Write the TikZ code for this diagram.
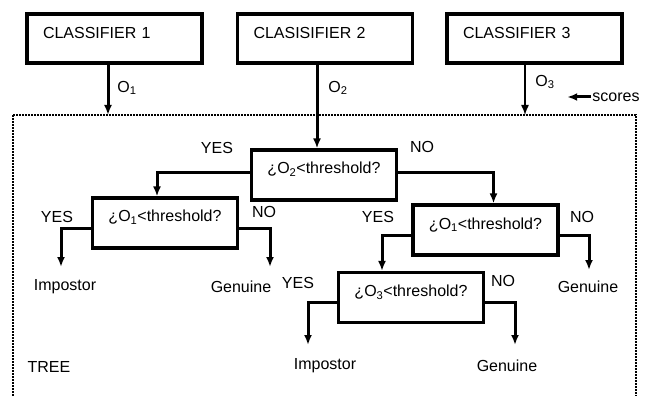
\documentclass[tikz,border=0pt]{standalone}
\usepackage{fontspec}
\setmainfont{Liberation Sans}
\usetikzlibrary{arrows.meta}

\tikzset{
  clbox/.style={draw, line width=3.2pt, align=left, text width=143pt, inner xsep=16pt, inner ysep=6pt, text height=18.5pt, text depth=18.5pt},
  askbox/.style={draw, line width=3.2pt, minimum width=145pt, inner xsep=0pt, inner ysep=6pt, text height=18pt, text depth=20pt},
  lbl/.style={inner sep=0pt},
  arr/.style={line width=3pt, -{Latex[length=10pt,width=8pt]}},
  frame/.style={line width=2.6pt, dash pattern=on 2pt off 1pt},
}

\begin{document}
\begin{tikzpicture}[x=1pt, y=-1pt, font=\fontsize{16}{19}\selectfont]
\useasboundingbox (0,0) rectangle (665,396);

% classifiers
\node[clbox] (c1) at (114.5,38.5) {CLASSIFIER 1};
\node[clbox] (c2) at (325,38.5) {CLASISIFIER 2};
\node[clbox] (c3) at (534.5,38.5) {CLASSIFIER 3};

% scores
\coordinate (t1) at (108,115);
\coordinate (t3) at (525,115);
\node[lbl] (o1) at (127,88) {O\textsubscript{1}};
\node[lbl] (o2) at (338,88) {O\textsubscript{2}};
\node[lbl] (o3) at (545,82) {O\textsubscript{3}};
\node[lbl] (scores) at (616,97) {scores};

% tree frame
\draw[frame] (13,115) rectangle (636,420);
\node[lbl] (tree) at (49,367) {TREE};

% decisions
\node[askbox] (d1) at (324,175) {¿O\textsubscript{2}<threshold?};
\node[askbox] (d2) at (165,223) {¿O\textsubscript{1}<threshold?};
\node[askbox] (d3) at (485.5,230) {¿O\textsubscript{1}<threshold?};
\node[askbox] (d4) at (411,297.5) {¿O\textsubscript{3}<threshold?};

% answers
\node[lbl] (y1) at (217,148) {YES};
\node[lbl] (n1) at (422,147) {NO};
\node[lbl] (y2) at (57,217) {YES};
\node[lbl] (n2) at (264,212) {NO};
\node[lbl] (y3) at (378,217) {YES};
\node[lbl] (n3) at (582,217) {NO};
\node[lbl] (y4) at (298,283) {YES};
\node[lbl] (n4) at (503,281) {NO};

% outcomes
\node[lbl] (imp1) at (65,287) {Impostor};
\node[lbl] (gen1) at (241,287) {Genuine};
\node[lbl] (gen2) at (588,287) {Genuine};
\node[lbl] (imp2) at (325,366) {Impostor};
\node[lbl] (gen3) at (507,366) {Genuine};
\coordinate (e1) at (61,267);
\coordinate (e2) at (270,267);
\coordinate (e3) at (589,270);
\coordinate (e4) at (308,345);
\coordinate (e5) at (515,345);

% connectors
\draw[arr] (c1.south -| t1) -- (t1);
\draw[arr] ([xshift=-8pt]c2.south) -- ([xshift=-8pt]c2.south |- d1.north);
\draw[arr, line width=1.4pt] (c3.south -| t3) -- (t3);
\draw[arr] ([xshift=-1pt]scores.west) -- ([xshift=-25pt]scores.west);

\draw[arr] ([yshift=3pt]d1.west) -| ([xshift=-8pt]d2.north);
\draw[arr] ([yshift=3pt]d1.east) -| ([xshift=8pt]d3.north);
\draw[arr] ([yshift=-5pt]d2.west) -| (e1);
\draw[arr] ([yshift=-5pt]d2.east) -| (e2);
\draw[arr] ([yshift=-5pt]d3.west) -| ([xshift=-29pt]d4.north);
\draw[arr] ([yshift=-5pt]d3.east) -| (e3);
\draw[arr] ([yshift=-5pt]d4.west) -| (e4);
\draw[arr] ([yshift=-5pt]d4.east) -| (e5);
\end{tikzpicture}
\end{document}
